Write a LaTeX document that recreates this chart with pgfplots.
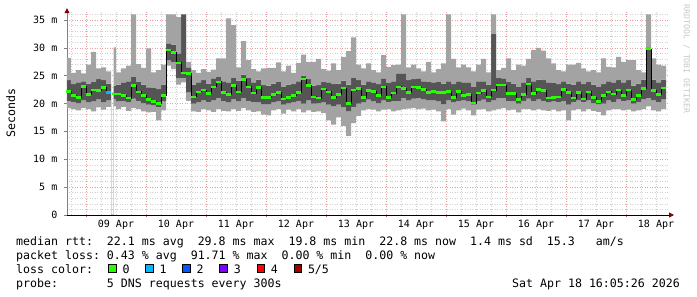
\documentclass[border=0pt]{standalone}
\usepackage{fontspec}
\setmainfont{DejaVu Sans Mono}
\usepackage{pgfplots}
\pgfplotsset{compat=1.18}
\usepackage{pgfplotstable}
\usetikzlibrary{arrows.meta}

\definecolor{smokeL}{RGB}{163,163,163}
\definecolor{smokeD}{RGB}{85,85,85}
\definecolor{mgridc}{RGB}{232,160,160}
\definecolor{gridc}{RGB}{208,208,208}
\definecolor{loss0}{RGB}{38,255,0}
\definecolor{loss1}{RGB}{0,184,255}
\definecolor{loss2}{RGB}{0,89,255}
\definecolor{loss3}{RGB}{126,0,255}
\definecolor{loss4}{RGB}{255,0,0}
\definecolor{loss5}{RGB}{160,0,0}
\definecolor{arrowred}{RGB}{128,0,0}
\definecolor{wm}{RGB}{200,200,200}

\newcommand{\lgd}{\fontsize{11.6}{14}\selectfont}

% hours since 09 Apr 00:00; columns of 2 h: lo = min, q1/q3 = inner smoke, med = median, hi = max (ms)
\pgfplotstableread{
h c lo q1 med q3 hi
-7.6 -6.8 19.2 20.5 22.2 24.2 28.2
-6 -5 19.0 20.3 21.4 23.5 25.5
-4 -3 18.8 20.1 21.1 23.8 26.0
-2 -1 19.2 20.6 23.1 24.0 25.4
0 1 19.0 20.2 21.6 23.6 27.0
2 3 18.6 20.4 22.4 23.9 29.3
4 5 19.3 20.8 22.3 24.4 26.3
6 7 18.9 20.2 22.9 24.2 26.5
8 9 19.4 20.6 22.0 23.6 25.8
10 nan 0 0 nan 0 0
11 11.5 19.5 20.8 21.7 23.2 30.1
12 13 19.0 20.4 21.7 23.4 25.6
14 15 19.4 20.5 21.4 23.8 26.3
16 17 18.7 20.2 21.0 24.0 26.8
18 19 19.2 20.9 23.2 24.8 36.0
20 21 19.0 20.5 22.1 23.9 27.1
22 23 18.6 20.1 21.4 23.4 26.4
24 25 18.4 19.8 20.7 22.9 29.9
26 27 18.5 19.7 20.4 22.8 25.6
28 29 17.0 19.4 20.0 22.6 26.0
30 31 18.8 20.4 21.5 23.4 27.0
32 33 26.8 27.8 29.6 30.8 36.0
34 35 26.2 27.5 29.2 30.6 36.0
36 37 23.4 24.6 27.3 29.0 35.5
38 39 23.8 24.6 25.5 36.0 36.0
40 41 20.5 22.0 25.4 26.5 27.5
42 43 18.6 20.0 21.2 23.4 26.0
44 45 18.5 20.2 22.1 23.8 25.5
46 47 19.0 20.6 22.4 24.2 26.2
48 49 18.8 20.3 21.8 23.6 25.7
50 51 18.5 20.6 23.0 24.5 26.1
52 53 19.0 21.0 23.9 24.8 28.1
54 55 18.7 20.5 22.0 24.0 28.1
56 57 18.6 20.2 21.6 23.8 35.3
58 59 19.0 20.8 23.2 24.6 34.1
60 61 18.7 20.4 22.1 24.1 26.5
62 63 19.2 21.0 24.3 25.2 31.2
64 65 18.8 20.5 23.0 24.6 27.8
66 67 18.5 20.3 21.9 23.8 26.2
68 69 18.6 20.2 22.9 24.3 25.8
70 71 18.0 19.9 21.1 23.3 26.3
72 73 17.9 19.9 21.1 23.2 26.4
74 75 18.8 20.2 21.6 23.6 26.4
76 77 19.0 20.4 22.0 23.9 27.4
78 79 18.2 19.8 20.8 23.0 25.8
80 81 18.9 20.1 21.1 23.4 26.8
82 83 18.6 20.2 21.4 23.5 25.5
84 85 19.0 20.5 22.0 24.0 27.3
86 87 18.4 20.0 24.4 25.0 28.8
88 89 18.8 20.6 23.2 24.4 27.5
90 91 18.5 20.0 21.2 23.2 27.5
92 93 18.6 20.1 21.0 23.3 28.0
94 95 18.3 20.2 22.6 23.9 26.2
96 97 17.0 19.8 22.1 23.8 25.9
98 99 16.2 19.5 21.1 23.5 27.2
100 101 17.5 19.8 21.6 23.6 26.0
102 103 16.0 19.3 22.8 24.1 28.4
104 105 14.2 18.6 20.0 23.4 29.4
106 107 16.5 19.4 22.4 24.6 31.9
108 109 17.8 20.0 22.7 24.2 27.0
110 111 18.8 20.2 21.1 23.4 26.3
112 113 19.0 20.7 22.3 24.0 27.2
114 115 18.9 20.4 22.2 23.8 26.0
116 117 18.6 20.1 21.5 23.5 25.6
118 119 18.9 20.6 23.0 24.5 28.7
120 121 19.0 20.3 21.1 23.7 26.6
122 123 18.6 20.5 21.9 24.0 26.9
124 125 18.8 20.5 23.0 25.4 27.0
126 127 19.0 21.0 22.7 25.4 36.0
128 129 19.1 20.6 22.0 24.2 26.5
130 131 19.2 20.9 23.0 24.4 27.0
132 133 19.0 21.0 22.9 24.5 26.3
134 135 19.1 20.8 22.5 24.0 25.8
136 137 18.8 20.6 22.0 23.9 27.5
138 139 18.9 20.6 22.2 23.8 25.6
140 141 18.6 20.4 22.0 23.9 26.2
142 143 16.8 19.9 22.0 23.6 27.2
144 145 19.0 20.6 22.2 24.0 36.0
146 147 18.0 20.2 21.1 23.5 28.0
148 149 18.8 20.5 22.2 24.0 26.5
150 151 19.1 20.6 21.4 23.8 27.0
152 153 18.8 20.4 21.6 23.8 26.5
154 155 17.9 19.8 20.1 23.0 25.8
156 157 18.9 20.5 21.9 24.0 27.0
158 159 19.0 20.7 22.3 24.0 28.0
160 161 18.6 20.2 21.2 23.4 25.6
162 163 18.8 20.6 22.4 32.5 36.0
164 165 19.0 21.0 23.3 24.6 26.0
166 167 19.2 21.0 23.3 24.5 26.4
168 169 18.8 20.5 21.8 23.9 28.1
170 171 18.9 20.4 21.8 23.6 26.0
172 173 18.4 20.0 20.7 23.0 27.0
174 175 19.0 20.5 21.6 23.8 26.8
176 177 19.0 20.9 23.5 24.6 28.0
178 179 18.8 20.5 21.8 24.0 29.6
180 181 19.0 20.8 22.5 24.3 30.0
182 183 18.8 20.5 22.3 24.2 29.5
184 185 18.7 20.2 21.0 23.8 28.1
186 187 18.9 20.4 21.1 23.7 27.2
188 189 18.6 20.3 21.2 23.5 26.0
190 191 18.8 20.5 22.5 24.0 25.8
192 193 17.0 19.8 22.0 23.6 27.0
194 195 18.8 20.3 21.0 23.4 27.0
196 197 19.0 20.6 22.0 24.0 27.3
198 199 18.6 20.3 20.8 23.5 26.3
200 201 19.0 20.6 22.1 23.9 25.8
202 203 18.7 20.1 21.1 23.4 26.0
204 205 18.5 19.9 20.4 23.0 25.6
206 207 17.9 20.0 21.4 23.5 28.1
208 209 18.8 20.6 22.1 24.0 26.6
210 211 19.0 20.3 21.7 23.8 26.5
212 213 19.0 20.8 22.4 24.2 28.4
214 215 18.8 20.5 21.5 23.8 27.5
216 217 18.9 20.6 22.4 24.2 27.8
218 219 18.6 20.0 20.7 23.2 27.8
220 221 18.8 20.3 21.4 23.6 26.0
222 223 19.0 20.8 22.7 24.3 25.6
224 225 19.5 21.0 29.8 30.1 36.0
226 227 18.8 20.6 22.3 24.3 28.1
228 229 18.6 20.3 21.6 23.8 27.0
230 231 19.0 20.8 22.8 24.3 26.8
232 nan 19.0 20.8 22.8 24.3 26.8
}\smoke

\begin{document}
\begin{tikzpicture}
\path[fill=white, use as bounding box] (0pt,0pt) rectangle (697pt,297pt);
\begin{axis}[
  at={(67pt,82pt)}, anchor=south west,
  scale only axis, width=602pt, height=202.8pt,
  xmin=-7.6, xmax=233.2, ymin=0, ymax=36.4,
  axis x line=bottom, axis y line=left,
  x axis line style={black, line width=0.8pt, -{Triangle[length=5pt,width=5pt,color=arrowred]}, shorten >=-5pt},
  y axis line style={gray, line width=0.8pt, -{Triangle[length=5pt,width=5pt,color=arrowred]}, shorten >=-4pt},
  grid=both,
  major grid style={mgridc, dash pattern=on 1pt off 1.5pt, line width=0.6pt},
  minor grid style={gridc, dash pattern=on 1pt off 1.5pt, line width=0.6pt},
  xtick={0,24,...,216}, xticklabels={},
  minor xtick={-6,6,12,18,30,36,42,54,60,66,78,84,90,102,108,114,126,132,138,150,156,162,174,180,186,198,204,210,222,228},
  extra x ticks={12,36,60,84,108,132,156,180,204,228},
  extra x tick labels={09 Apr,10 Apr,11 Apr,12 Apr,13 Apr,14 Apr,15 Apr,16 Apr,17 Apr,18 Apr},
  extra x tick style={grid=none, major tick length=0pt},
  ytick={0,5,...,35},
  yticklabels={0,5 m,10 m,15 m,20 m,25 m,30 m,35 m},
  minor ytick={1,2,3,4,6,7,8,9,11,12,13,14,16,17,18,19,21,22,23,24,26,27,28,29,31,32,33,34,36},
  major tick length=2.5pt, minor tick length=0pt, tick align=outside,
  tick style={gray, line width=0.6pt},
  tick label style={font=\fontsize{10}{12}\selectfont},
  xticklabel style={inner sep=0pt, anchor=north, yshift=-5pt},
  yticklabel style={inner sep=0pt, anchor=east, xshift=-7pt},
]
% smoke: stacked bands min -> q1 -> q3 -> max
\addplot[draw=none, const plot, stack plots=y, forget plot] table[x=h,y=lo]{\smoke};
\addplot[draw=none, fill=smokeL, const plot, stack plots=y] table[x=h,y expr=\thisrow{q1}-\thisrow{lo}]{\smoke} \closedcycle;
\addplot[draw=none, fill=smokeD, const plot, stack plots=y] table[x=h,y expr=\thisrow{q3}-\thisrow{q1}]{\smoke} \closedcycle;
\addplot[draw=none, fill=smokeL, const plot, stack plots=y] table[x=h,y expr=\thisrow{hi}-\thisrow{q3}]{\smoke} \closedcycle;
% median
\addplot[black, line width=0.8pt, const plot, unbounded coords=jump] table[x=h,y=med]{\smoke};
\addplot[only marks, mark=-, mark size=2.5pt, mark options={loss0, line width=2.6pt}] table[x=c,y=med]{\smoke};
\addplot[only marks, mark=-, mark size=2.5pt, mark options={loss1, line width=2.6pt}] coordinates {(9,22.0)};
\end{axis}

\node[rotate=90, font=\lgd, inner sep=0pt] at (10.8pt,184pt) {Seconds};
\node[rotate=-90, font=\fontsize{8.2}{10}\selectfont, text=wm, inner sep=0pt] at (686.5pt,238pt) {RRDTOOL / TOBI OETIKER};

\node[anchor=base west, inner sep=0pt, font=\lgd] at (16pt,51.8pt) {median rtt:~~22.1~ms~avg~~29.8~ms~max~~19.8~ms~min~~22.8~ms~now~~1.4~ms~sd~~15.3~~~am/s};
\node[anchor=base west, inner sep=0pt, font=\lgd] at (16pt,37.5pt) {packet loss:~0.43~\%~avg~~91.71~\%~max~~0.00~\%~min~~0.00~\%~now};
\node[anchor=base west, inner sep=0pt, font=\lgd] at (16pt,23.8pt) {loss color:};
\foreach \k/\c/\lab in {0/loss0/0,1/loss1/1,2/loss2/2,3/loss3/3,4/loss4/4,5/loss5/5\slash 5}{
  \filldraw[fill=\c, draw=black, line width=0.8pt] ({108.5pt+37.1pt*\k},24.5pt) rectangle ++(7.5pt,8pt);
  \node[anchor=base west, inner sep=0pt, font=\lgd] at ({122.3pt+37.1pt*\k},23.8pt) {\lab};
}
\node[anchor=base west, inner sep=0pt, font=\lgd] at (16pt,9.5pt) {probe:~~~~~~~5~DNS~requests~every~300s};
\node[anchor=base east, inner sep=0pt, font=\lgd] at (680pt,9.5pt) {Sat~Apr~18~16:05:26~2026};
\end{tikzpicture}
\end{document}
